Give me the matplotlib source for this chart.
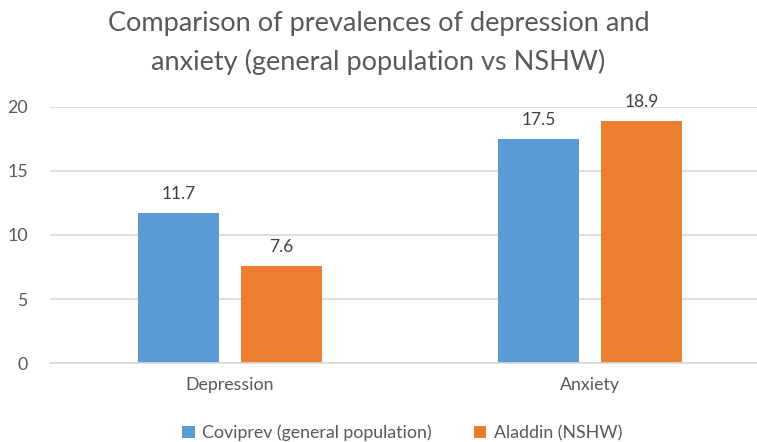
import numpy as np
import matplotlib.pyplot as plt

plt.rcParams['font.family'] = ['Lato', 'DejaVu Sans']

categories = ["Depression", "Anxiety"]
coviprev = [11.7, 17.5]
aladdin = [7.6, 18.9]
series_names = ["Coviprev (general population)", "Aladdin (NSHW)"]

grey = "#595959"
blue = "#5B9BD5"
orange = "#ED7D31"

fig = plt.figure(figsize=(7.57, 4.42), dpi=100)
ax = fig.add_axes([50 / 757, 79 / 442, 720 / 757, 256 / 442])

x = np.arange(len(categories))
w = 0.225
off = 0.143
b1 = ax.bar(x - off, coviprev, w, color=blue, label=series_names[0], zorder=2)
b2 = ax.bar(x + off, aladdin, w, color=orange, label=series_names[1], zorder=2)

for bars in (b1, b2):
    for r in bars:
        ax.annotate(f"{r.get_height():.1f}", (r.get_x() + r.get_width() / 2, r.get_height()),
                    xytext=(0, 8), textcoords="offset points", ha="center", va="bottom",
                    fontsize=12.5, color="#404040")

ax.set_xlim(-0.5, 1.5)
ax.set_ylim(0, 20)
ax.set_yticks([0, 5, 10, 15, 20])
ax.set_xticks(x)
ax.set_xticklabels(categories)
ax.yaxis.grid(True, color="#D9D9D9", linewidth=1.2, zorder=0)
ax.set_axisbelow(True)
for s in ["top", "right", "left"]:
    ax.spines[s].set_visible(False)
ax.spines["bottom"].set_color("#D9D9D9")
ax.spines["bottom"].set_linewidth(1.2)
ax.tick_params(axis="both", length=0, labelsize=12.8, colors=grey)
ax.tick_params(axis="y", pad=16)
ax.tick_params(axis="x", pad=10)

fig.text(0.5, 0.975, "Comparison of prevalences of depression and\nanxiety (general population vs NSHW)",
         ha="center", va="top", fontsize=19.5, color=grey, linespacing=1.6)

fig.legend(handles=[b1, b2], loc="center", bbox_to_anchor=(402 / 757, 1 - 433 / 442),
           ncol=2, frameon=False, fontsize=12.8, labelcolor=grey, handlelength=0.7,
           handleheight=0.7, handletextpad=0.4, columnspacing=2.4)

fig.savefig("out.png", dpi=100)
